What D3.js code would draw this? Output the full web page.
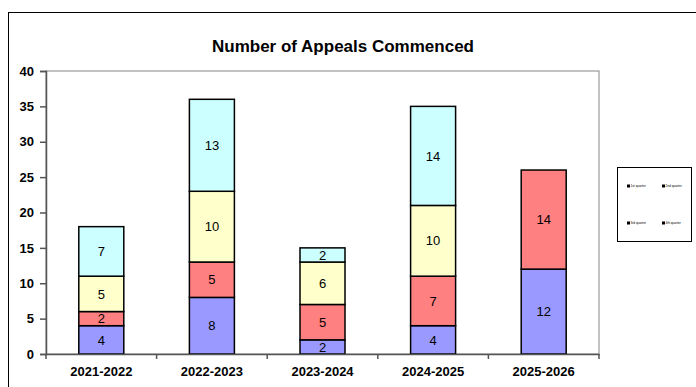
<!DOCTYPE html>
<html>
<head>
<meta charset="utf-8">
<script src="https://cdn.jsdelivr.net/npm/d3@7"></script>
<style>
  body { margin: 0; background: #fff; }
  svg { display: block; font-family: "Liberation Sans", Arial, sans-serif; }
</style>
</head>
<body>
<svg id="chart" width="696" height="387"></svg>
<script>
// chart values
var years = ["2021-2022", "2022-2023", "2023-2024", "2024-2025", "2025-2026"];
var q1 = [4, 8, 2, 4, 12];
var q2 = [2, 5, 5, 7, 14];
var q3 = [5, 10, 6, 10, 0];
var q4 = [7, 13, 2, 14, 0];
var quarterNames = ["1st quarter", "2nd quarter", "3rd quarter", "4th quarter"];
var yTicks = [0, 5, 10, 15, 20, 25, 30, 35, 40];

var colors = ["#9999ff", "#ff8080", "#ffffcc", "#ccffff"];

var svg = d3.select("#chart");

// outer frame
svg.append("rect")
    .attr("x", 8.5).attr("y", 12.5)
    .attr("width", 720).attr("height", 400)
    .attr("fill", "none").attr("stroke", "#000").attr("stroke-width", 1);

// plot area bounds (don't use "top" - clashes with window.top)
var plotL = 46, plotT = 71, plotR = 599, plotB = 354;

var x = d3.scaleBand().domain(years).range([plotL, plotR]);
var y = d3.scaleLinear().domain([0, 40]).range([plotB, plotT]);

// plot area border
svg.append("rect")
    .attr("x", plotL).attr("y", plotT)
    .attr("width", plotR - plotL).attr("height", plotB - plotT)
    .attr("fill", "#fff").attr("stroke", "#999").attr("stroke-width", 1.2);

// title
svg.append("text")
    .attr("x", 343).attr("y", 52)
    .attr("text-anchor", "middle")
    .attr("font-size", 17).attr("font-weight", "bold")
    .text("Number of Appeals Commenced");

// stack the data
var rows = years.map(function(d, i) {
  return { year: d, q1: q1[i], q2: q2[i], q3: q3[i], q4: q4[i] };
});
var stack = d3.stack().keys(["q1", "q2", "q3", "q4"])(rows);

var barW = 45;
var layers = svg.selectAll("g.layer")
    .data(stack)
    .enter().append("g")
    .attr("class", "layer")
    .attr("fill", function(d, i) { return colors[i]; });

layers.selectAll("rect")
    .data(function(d) { return d.filter(function(s) { return s[1] - s[0] > 0; }); })
    .enter().append("rect")
    .attr("x", function(d) { return x(d.data.year) + x.bandwidth() / 2 - barW / 2; })
    .attr("y", function(d) { return y(d[1]); })
    .attr("width", barW)
    .attr("height", function(d) { return y(d[0]) - y(d[1]); })
    .attr("stroke", "#000").attr("stroke-width", 1.5);

layers.selectAll("text")
    .data(function(d) { return d.filter(function(s) { return s[1] - s[0] > 0; }); })
    .enter().append("text")
    .attr("x", function(d) { return x(d.data.year) + x.bandwidth() / 2; })
    .attr("y", function(d) { return (y(d[0]) + y(d[1])) / 2; })
    .attr("dy", "0.36em")
    .attr("text-anchor", "middle")
    .attr("fill", "#000")
    .attr("font-size", 13)
    .text(function(d) { return d[1] - d[0]; });

// y axis
var yAxis = svg.append("g")
    .attr("transform", "translate(" + plotL + ",0)")
    .call(d3.axisLeft(y).tickValues(yTicks).tickSize(6).tickPadding(6));
yAxis.select(".domain").attr("stroke", "#555").attr("stroke-width", 1.5);
yAxis.selectAll(".tick line").attr("stroke", "#555").attr("stroke-width", 1.5);
yAxis.selectAll("text")
    .attr("font-size", 13).attr("font-weight", "bold")
    .attr("font-family", "Liberation Sans, Arial, sans-serif").attr("fill", "#000");

// x axis
var xAxis = svg.append("g")
    .attr("transform", "translate(0," + plotB + ")")
    .call(d3.axisBottom(x).tickSize(0).tickPadding(13));
xAxis.select(".domain").attr("stroke", "#555").attr("stroke-width", 1.5);
xAxis.selectAll("text")
    .attr("font-size", 13).attr("font-weight", "bold")
    .attr("font-family", "Liberation Sans, Arial, sans-serif").attr("fill", "#000");
// category separator ticks
xAxis.selectAll("line.sep")
    .data(years.concat([null]))
    .enter().append("line")
    .attr("class", "sep")
    .attr("x1", function(d, i) { return plotL + i * x.step(); })
    .attr("x2", function(d, i) { return plotL + i * x.step(); })
    .attr("y1", 0).attr("y2", 5)
    .attr("stroke", "#555").attr("stroke-width", 1.5);

// legend
var legend = svg.append("g").attr("transform", "translate(617,167)");
legend.append("rect")
    .attr("x", 0.5).attr("y", 0.5).attr("width", 74).attr("height", 74)
    .attr("fill", "#fff").attr("stroke", "#000").attr("stroke-width", 1);

var legendItems = legend.selectAll("g.item")
    .data(quarterNames)
    .enter().append("g")
    .attr("class", "item")
    .attr("transform", function(d, i) {
      return "translate(" + (10 + (i % 2) * 35) + "," + (19 + Math.floor(i / 2) * 37) + ")";
    });
legendItems.append("rect")
    .attr("x", 0).attr("y", -1.5).attr("width", 3).attr("height", 3)
    .attr("fill", "#000");
legendItems.append("text")
    .attr("x", 3.5).attr("y", 1.2)
    .attr("font-size", 3.2)
    .attr("fill", "#000")
    .text(function(d) { return d; });
</script>
</body>
</html>
